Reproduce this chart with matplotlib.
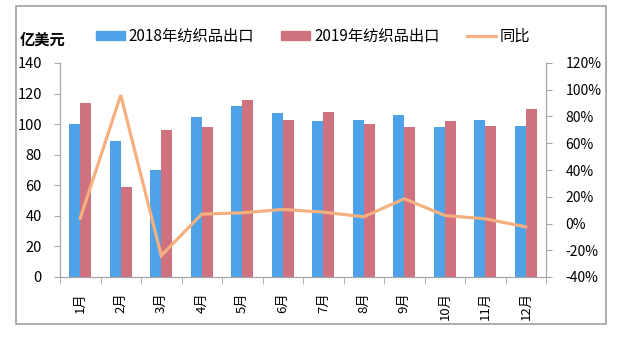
import numpy as np
import matplotlib.pyplot as plt
from matplotlib.patches import Rectangle, Patch
from matplotlib.lines import Line2D

plt.rcParams['font.family'] = ['Noto Sans CJK SC', 'DejaVu Sans']

months = ['1月', '2月', '3月', '4月', '5月', '6月', '7月', '8月', '9月', '10月', '11月', '12月']
exp_2018 = [100, 89, 70, 105, 112, 107, 102, 103, 106, 98, 103, 99]
exp_2019 = [114, 59, 96, 98, 116, 103, 108, 100, 98, 102, 99, 110]
yoy = [4, 96, -24, 7, 8, 10.5, 8.5, 5, 18.5, 6, 3.5, -2.5]

blue = '#4EA2E8'
red = '#D0717F'
orange = '#F5B07F'
spine_c = '#A6A6A6'

fig = plt.figure(figsize=(6.27, 3.39), dpi=100)
ax = fig.add_axes([60/627, 62/339, 486/627, 214/339])
x = np.arange(len(months))
w = 0.27
ax.bar(x - w/2, exp_2018, w, color=blue)
ax.bar(x + w/2, exp_2019, w, color=red)
ax.set_xlim(-0.5, 11.5)
ax.set_ylim(0, 140)
ax.set_yticks(np.arange(0, 141, 20))

ax2 = ax.twinx()
ax2.plot(x, yoy, color=orange, lw=2.3, solid_joinstyle='miter')
ax2.set_ylim(-40, 120)
ax2.set_yticks(np.arange(-40, 121, 20))
ax2.set_yticklabels([f'{v}%' for v in range(-40, 121, 20)])

ax.set_xticks(x)
ax.set_xticklabels(months, rotation=90)
ax.set_xticks(np.arange(-0.5, 12, 1), minor=True)
ax.tick_params(axis='x', which='major', length=0, pad=11, labelsize=9.5)
ax.tick_params(axis='x', which='minor', length=5, color=spine_c)
ax.tick_params(axis='y', length=4, color=spine_c, labelsize=10.5, pad=9)
ax2.tick_params(axis='y', length=4, color=spine_c, labelsize=10, pad=10)

for a in (ax, ax2):
    a.spines['top'].set_visible(False)
    for s in ('left', 'right', 'bottom'):
        a.spines[s].set_color(spine_c)

# outer border
fig.patches.append(Rectangle((16/627, 15/339), 590/627, 318/339, transform=fig.transFigure,
                             fill=False, edgecolor='#A0A0A0', lw=1.2))

fig.text(20/627, 0.882, '亿美元', fontsize=11, fontweight='bold', va='center')
handles = [Patch(color=blue), Patch(color=red), Line2D([], [], color=orange, lw=2.3)]
fig.legend(handles, ['2018年纺织品出口', '2019年纺织品出口', '同比'], ncol=3,
           loc='center', bbox_to_anchor=(313/627, 0.893), frameon=False, fontsize=11,
           handlelength=1.9, handleheight=0.5, handletextpad=0.25, columnspacing=1.8)

fig.savefig('out.png', dpi=100)
